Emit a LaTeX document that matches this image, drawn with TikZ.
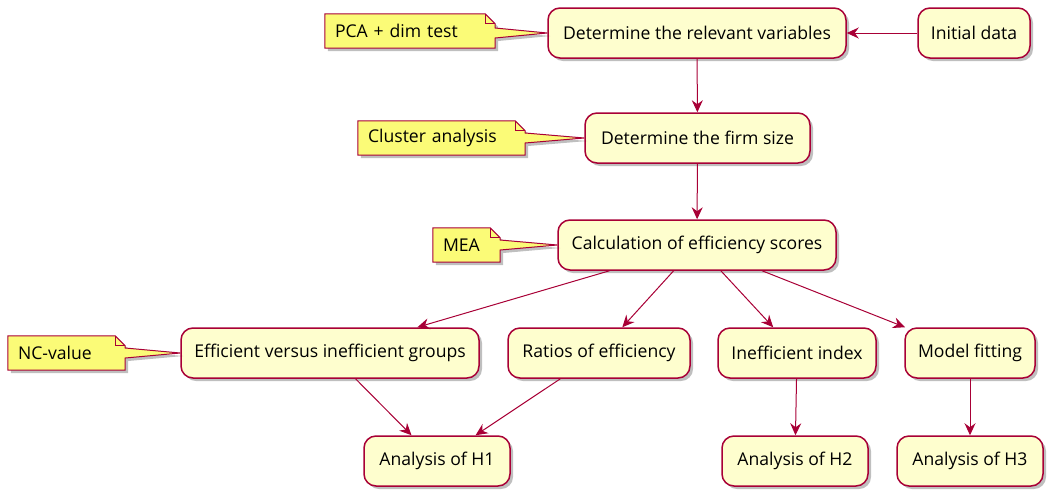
\documentclass[tikz,border=0pt]{standalone}
\usepackage{fontspec}
\setmainfont{Open Sans}
\usetikzlibrary{arrows.meta,shadows}
\definecolor{actfill}{HTML}{FEFECE}
\definecolor{actline}{HTML}{A80036}
\definecolor{notefill}{HTML}{FBFB77}
\tikzset{softshadow/.style={drop shadow={shadow xshift=3pt, shadow yshift=-3pt, fill=black, opacity=0.25}},
         activity/.style={draw=actline, fill=actfill, line width=1.5pt, rounded corners=12pt,
                          minimum height=50pt, inner sep=0pt, font=\fontsize{17.6}{20}\selectfont, softshadow},
         notebox/.style={inner xsep=10pt, inner ysep=0pt, minimum height=34pt, align=left,
                         font=\fontsize{17.6}{20}\selectfont},
         flow/.style={draw=actline, line width=1pt, -{Stealth[length=12pt,width=11pt,inset=4pt]}}}
\newcommand{\drawnote}[2]{%
  \filldraw[fill=notefill, draw=actline, line width=1pt, softshadow]
     (#1.north west) -- ([xshift=-10pt]#1.north east) -- ([yshift=-10pt]#1.north east) --
     ([yshift=5pt]#1.east |- #2.west) -- (#2.west) -- ([yshift=-5pt]#1.east |- #2.west) --
     (#1.south east) -- (#1.south west) -- cycle;
  \draw[actline, line width=1pt] ([xshift=-10pt]#1.north east) |- ([yshift=-10pt]#1.north east);}

\begin{document}
\begin{tikzpicture}[x=1pt, y=1pt]
   \useasboundingbox (0,0) rectangle (1050,-491);
   \node[activity, minimum width=298pt] (vars)  at ( 697.0, -33) {Determine the relevant variables};
   \node[activity, minimum width=112pt] (init)  at ( 974.0, -33) {Initial data};
   \node[activity, minimum width=225pt] (size)  at ( 697.5,-138) {Determine the firm size};
   \node[activity, minimum width=278pt] (calc)  at ( 697.0,-245) {Calculation of efficiency scores};
   \node[activity, minimum width=298pt] (eff)   at ( 330.0,-353) {Efficient versus inefficient groups};
   \node[activity, minimum width=182pt] (ratio) at ( 599.0,-353) {Ratios of efficiency};
   \node[activity, minimum width=158pt] (ineff) at ( 797.0,-353) {Inefficient index};
   \node[activity, minimum width=130pt] (fit)   at ( 970.0,-353) {Model fitting};
   \node[activity, minimum width=146pt] (hone)  at ( 437.0,-461) {Analysis of H1};
   \node[activity, minimum width=146pt] (htwo)  at ( 795.0,-461) {Analysis of H2};
   \node[activity, minimum width=146pt] (hthree) at ( 970.0,-461) {Analysis of H3};

   \node[notebox, text width=150pt] (pca)     at ( 410.0, -31) {};
   \node[notebox, text width=147pt] (cluster) at ( 441.5,-138) {};
   \node[notebox, text width= 47pt] (mea)     at ( 466.5,-245) {};
   \node[notebox, text width= 97pt] (nc)      at (  66.5,-353) {};
   \drawnote{pca}{vars}
   \drawnote{cluster}{size}
   \drawnote{mea}{calc}
   \drawnote{nc}{eff}
   \node[notebox, text width=150pt] at (pca)     {PCA + dim test};
   \node[notebox, text width=147pt] at (cluster) {Cluster analysis};
   \node[notebox, text width= 47pt] at (mea)     {MEA};
   \node[notebox, text width= 97pt] at (nc)      {NC-value};

   \draw[flow] (init)  -- (vars);
   \draw[flow] (vars)  -- (size);
   \draw[flow] (size)  -- (calc);
   \draw[flow] (calc)  -- (eff);
   \draw[flow] (calc)  -- (ratio);
   \draw[flow] (calc)  -- (ineff);
   \draw[flow] (calc)  -- (fit);
   \draw[flow] (eff)   -- (hone);
   \draw[flow] (ratio) -- (hone);
   \draw[flow] (ineff) -- (htwo);
   \draw[flow] (fit)   -- (hthree);
\end{tikzpicture}
\end{document}
